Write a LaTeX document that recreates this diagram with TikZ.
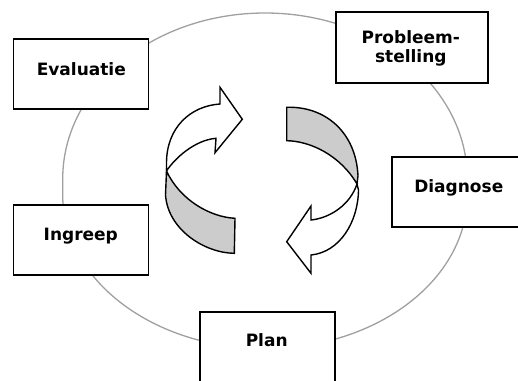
\documentclass[tikz,border=0pt]{standalone}
\usepackage{fontspec}
\setmainfont{DejaVu Sans}
\definecolor{ringgray}{RGB}{160,160,160}
\definecolor{bandgray}{RGB}{204,204,204}
\tikzset{
  ring/.style={draw=ringgray, line width=1.3pt},
  box/.style={draw=black, fill=white, line width=1.8pt, minimum width=135pt, minimum height=70.5pt, inner sep=0pt, outer sep=0pt},
  lbl/.style={anchor=base, inner sep=0pt, align=center, font=\fontsize{17}{19}\selectfont\bfseries},
  arw/.style={draw=black, line width=1.4pt, line join=miter},
}
\begin{document}
\begin{tikzpicture}[x=1pt,y=-1pt]
\useasboundingbox (0,0) rectangle (518,380);
\clip (0,0) rectangle (518,380);
\fill[white] (0,0) rectangle (518,380);
% ring
\draw[ring] (62.7,195) -- (62.7,179)
  arc[start angle=180, end angle=360, x radius=202.3, y radius=166]
  -- (467.3,195)
  arc[start angle=0, end angle=180, x radius=202.3, y radius=153.6] -- cycle;
% boxes
\node[box] (eval) at (81,73.9) {};
\node[box, minimum width=152pt] (prob) at (411.8,47.5) {};
\node[box] (diag) at (459.2,192) {};
\node[box] (ingr) at (81,240) {};
\node[box] (plan) at (267.5,347.2) {};
\node[lbl] (evalt) at (81.3,75) {Evaluatie};
\node[lbl] (probt) at (410.8,62.3) {Probleem-\\stelling};
\node[lbl] (diagt) at (458.8,192.7) {Diagnose};
\node[lbl] (ingrt) at (80.8,240) {Ingreep};
\node[lbl] (plant) at (266.7,346.7) {Plan};
% left circular arrow
\filldraw[arw, fill=bandgray] (166.5,171) -- (165.5,195) .. controls (168,230) and (205,253) .. (234.3,253.3)
  -- (235,218.3) .. controls (210,217) and (180,200) .. (166.5,171) -- cycle;
\filldraw[arw, fill=white] (242.3,119.3) -- (215,152.7) -- (216,138.3)
  .. controls (195,140) and (175,158) .. (166.5,171) -- (166.5,163)
  .. controls (166.5,128) and (190,106) .. (220,104) -- (220,87.3) -- cycle;
% right circular arrow
\filldraw[arw, fill=bandgray] (286.7,107.3) .. controls (325,106) and (356,132) .. (358,176)
  -- (357,184) .. controls (340,155) and (310,141) .. (286.7,140.7) -- cycle;
\filldraw[arw, fill=white] (357,184) .. controls (350,205) and (330,218) .. (311,220)
  -- (311,206) -- (286.7,241.7) -- (311,273.3) -- (311,255)
  .. controls (340,252) and (358,222) .. (358.5,190) -- cycle;
\end{tikzpicture}
\end{document}
